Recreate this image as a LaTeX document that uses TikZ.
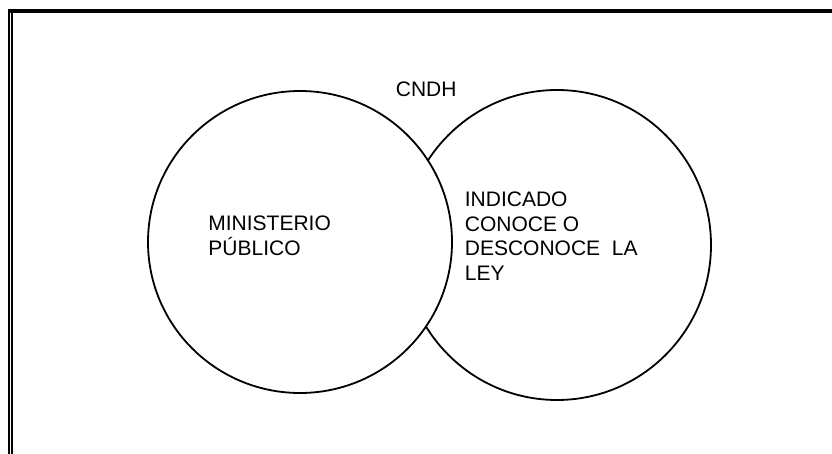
\documentclass[tikz,border=0pt]{standalone}
\usepackage{fontspec}
\setmainfont{Liberation Sans}
\begin{document}
\begin{tikzpicture}[x=1pt, y=-1pt, line width=1.8pt]
\tikzset{texto/.style={anchor=base west, inner sep=0pt, align=left,
  font=\fontsize{21}{24.5}\selectfont}}
\useasboundingbox (0,0) rectangle (832,454);

% Definir coordenadas
\coordinate (M) at (300,242);
\coordinate (I) at (557,245);

% Marco
\draw[line width=4pt] (8,11) -- (832,11);
\draw[line width=2pt] (9,9) -- (9,454);
\draw[line width=1.6pt] (11.9,12) -- (11.9,454);

% Circulos
\draw (I) ellipse [x radius=154, y radius=155];
\draw[fill=white] (M) ellipse [x radius=152, y radius=151];

% Etiquetas
\node[texto] (cndh) at (395,97) {CNDH};
\node[texto] (mp) at (207.5,255) {MINISTERIO\\PÚBLICO};
\node[texto] (ind) at (464,280) {INDICADO\\CONOCE O\\DESCONOCE~~LA\\LEY};
\end{tikzpicture}
\end{document}
